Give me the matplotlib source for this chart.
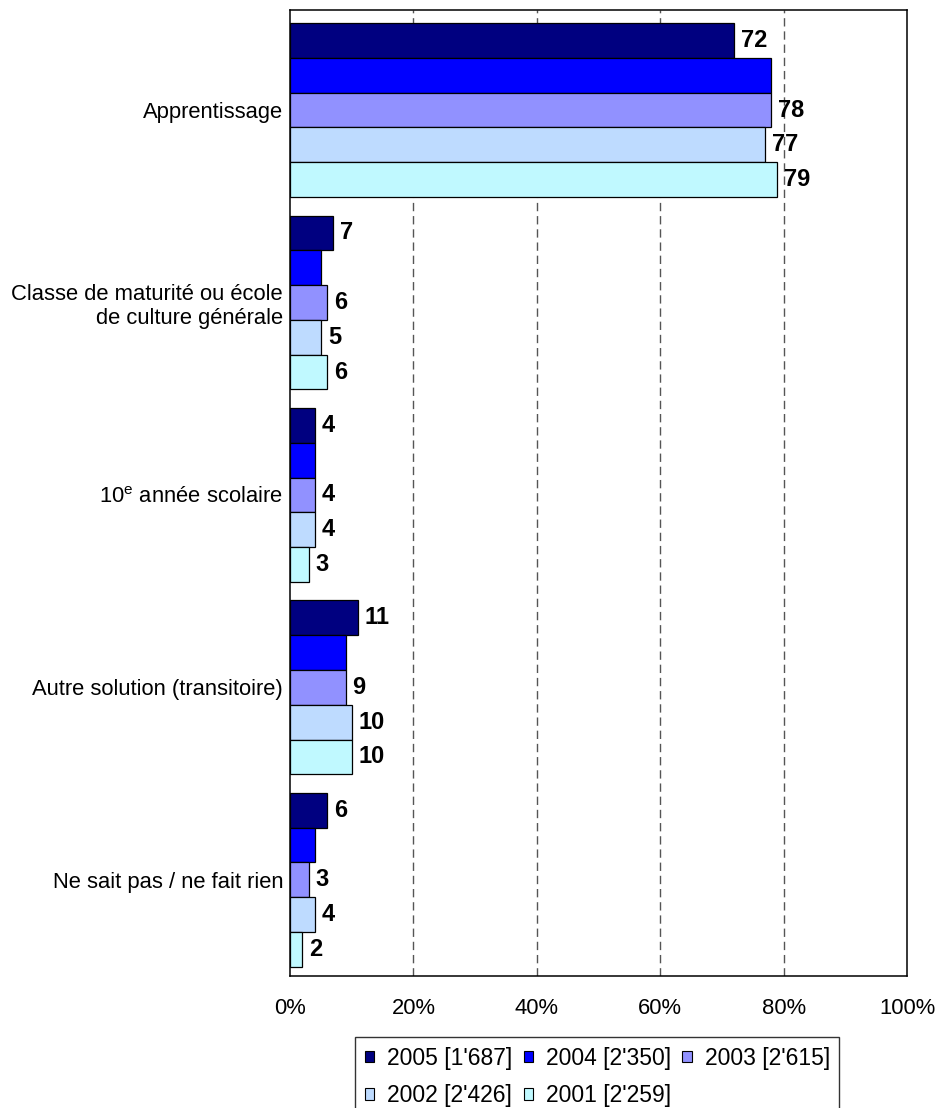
import numpy as np
import matplotlib
matplotlib.use("Agg")
import matplotlib.pyplot as plt

plt.rcParams["font.family"] = ["Liberation Sans", "DejaVu Sans"]
plt.rcParams["mathtext.fontset"] = "custom"
plt.rcParams["mathtext.rm"] = "Liberation Sans"

# données
categories = [
    "Apprentissage",
    "Classe de maturité ou école\nde culture générale",
    "10$^{\\mathrm{e}}$ année scolaire",
    "Autre solution (transitoire)",
    "Ne sait pas / ne fait rien",
]
series = ["2005 [1'687]", "2004 [2'350]", "2003 [2'615]", "2002 [2'426]", "2001 [2'259]"]
v2005 = [72, 7, 4, 11, 6]
v2004 = [78, 5, 4, 9, 4]
v2003 = [78, 6, 4, 9, 3]
v2002 = [77, 5, 4, 10, 4]
v2001 = [79, 6, 3, 10, 2]
show_label = [True, False, True, True, True]   # 2004 sans étiquettes
ticks_x = [0, 20, 40, 60, 80, 100]

couleurs = ["#000080", "#0000FF", "#9191FF", "#BEDBFF", "#C0F9FF"]
valeurs = [v2005, v2004, v2003, v2002, v2001]

fig = plt.figure(figsize=(9.41, 11.08), dpi=100)
ax = fig.add_axes([290/941, 1 - 976/1108, 617/941, 966/1108])

y = np.arange(len(categories))
group_w = 0.904
h = group_w / len(series)

barres = []
for i, (vals, lab, col) in enumerate(zip(valeurs, series, couleurs)):
    pos = y - group_w/2 + (i + 0.5)*h
    b = ax.barh(pos, vals, height=h, color=col, edgecolor="black", linewidth=0.9,
                label=lab, zorder=3)
    barres.append(b)
    if show_label[i]:
        for p, v in zip(pos, vals):
            ax.annotate(str(v), (v, p), xytext=(5, 0), textcoords="offset points",
                        ha="left", va="center", fontsize=17, fontweight="bold", zorder=4)

ax.set_xlim(0, 100)
ax.set_ylim(4.5, -0.52)
ax.set_xticks(ticks_x)
ax.set_xticklabels([f"{t}%" for t in ticks_x], fontsize=15.8)
ax.set_yticks(y)
ax.set_yticklabels(categories, fontsize=15.8)
ax.tick_params(axis="x", length=0, pad=16)
ax.tick_params(axis="y", length=0, pad=5)

for t in [20, 40, 60, 80]:
    ax.axvline(t, color="#555555", linewidth=1.0, linestyle=(0, (6, 3.5)), zorder=1)

for s in ax.spines.values():
    s.set_linewidth(1.1)
    s.set_color("black")

# ordre par lignes dans la légende
ordre = [0, 3, 1, 4, 2]
leg = fig.legend([barres[k] for k in ordre], [series[k] for k in ordre],
                 loc="upper left", bbox_to_anchor=(355/941, 1 - 1037/1108), ncol=3,
                 fontsize=16.5, frameon=True, fancybox=False, edgecolor="black",
                 handlelength=0.42, handleheight=0.42, handletextpad=0.55,
                 columnspacing=0.5, borderpad=0.42, labelspacing=0.62,
                 borderaxespad=0)
leg.get_frame().set_linewidth(1.0)
for hnd in leg.legend_handles:
    hnd.set_linewidth(0.8)

fig.savefig("out.png", dpi=100)
